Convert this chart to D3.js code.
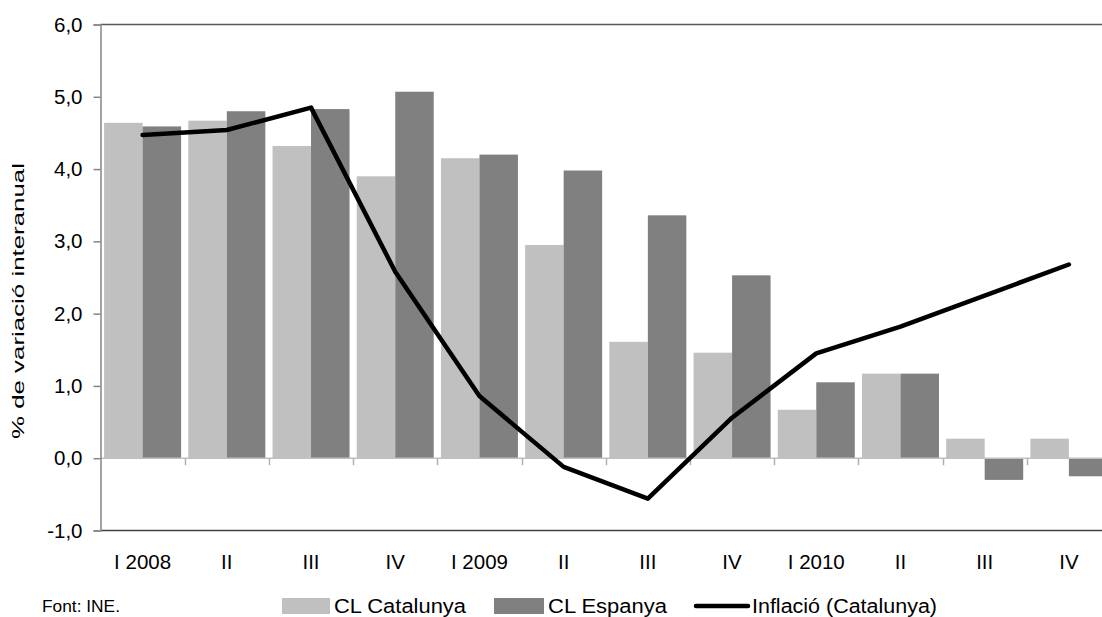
<!DOCTYPE html>
<html>
<head>
<meta charset="utf-8">
<script src="https://cdn.jsdelivr.net/npm/d3@7"></script>
<style>
  html, body { margin: 0; padding: 0; background: #fff; }
  svg { display: block; font-family: "Liberation Sans", Arial, sans-serif; }
</style>
</head>
<body>
<svg id="chart" width="1102" height="617"></svg>
<script>
// Quarterly labels
const quarters = ["I 2008", "II", "III", "IV", "I 2009", "II", "III", "IV", "I 2010", "II", "III", "IV"];
// Cost laboral, % variació interanual
const clCatalunya = [4.64, 4.67, 4.32, 3.90, 4.15, 2.95, 1.61, 1.46, 0.67, 1.17, 0.27, 0.27];
const clEspanya   = [4.59, 4.80, 4.83, 5.07, 4.20, 3.98, 3.36, 2.53, 1.05, 1.17, -0.30, -0.25];
// Inflació (Catalunya)
const inflacio    = [4.47, 4.54, 4.85, 2.58, 0.86, -0.12, -0.56, 0.56, 1.45, 1.82, 2.25, 2.68];
const yTicks = [-1, 0, 1, 2, 3, 4, 5, 6];
const seriesNames = ["CL Catalunya", "CL Espanya", "Inflació (Catalunya)"];

const svg = d3.select("#chart");
const mLeft = 100.5, mRight = 1111, mTop = 24.5, mBottom = 530.5;
const idx = d3.range(quarters.length);

const x = d3.scaleBand().domain(idx).range([mLeft, mRight])
  .paddingInner(0.0855).paddingOuter(0.0428);
const xs = d3.scaleBand().domain([0, 1]).range([0, x.bandwidth()]);
const y = d3.scaleLinear().domain([-1, 6]).range([mBottom, mTop]);
const fmt = d3.formatLocale({decimal: ",", thousands: ".", grouping: [3], currency: ["", "€"], minus: "-"}).format(".1f");

// top frame line
svg.append("line").attr("x1", mLeft).attr("x2", mRight).attr("y1", mTop).attr("y2", mTop)
  .attr("stroke", "#5a5a5a").attr("stroke-width", 1.5);

// bars
const colors = ["#c0c0c0", "#808080"];
[clCatalunya, clEspanya].forEach((vals, s) => {
  svg.append("g").selectAll("rect").data(vals).join("rect")
    .attr("x", (d, i) => x(i) + xs(s))
    .attr("width", xs.bandwidth())
    .attr("y", d => y(Math.max(0, d)))
    .attr("height", d => Math.abs(y(d) - y(0)))
    .attr("fill", colors[s]);
});

// zero line with category separators
const step = x.step();
const bounds = d3.range(1, quarters.length + 1).map(k => mLeft + k * step);
svg.append("line").attr("x1", mLeft).attr("x2", mRight).attr("y1", y(0)).attr("y2", y(0))
  .attr("stroke", "#c0c0c0").attr("stroke-width", 1.5);
svg.append("g").selectAll("line").data(bounds).join("line")
  .attr("x1", d => Math.round(d) + 0.5).attr("x2", d => Math.round(d) + 0.5)
  .attr("y1", y(0)).attr("y2", y(0) + 7)
  .attr("stroke", "#b0b0b0").attr("stroke-width", 1.5);

// bottom frame
svg.append("line").attr("x1", mLeft).attr("x2", mRight).attr("y1", mBottom).attr("y2", mBottom)
  .attr("stroke", "#404040").attr("stroke-width", 1.5);

// y axis
const yAxis = svg.append("g").attr("transform", `translate(${mLeft},0)`)
  .call(d3.axisLeft(y).tickValues(yTicks).tickFormat(fmt).tickSize(7).tickPadding(11));
yAxis.select(".domain").attr("stroke", "#868686").attr("stroke-width", 1.5);
yAxis.selectAll(".tick line").attr("stroke", "#868686").attr("stroke-width", 1.5);
yAxis.selectAll(".tick text").attr("font-size", 20.5).attr("fill", "#000")
  .attr("font-family", "Liberation Sans, Arial, sans-serif");

// x labels
svg.append("g").selectAll("text").data(quarters).join("text")
  .attr("x", (d, i) => x(i) + x.bandwidth() / 2)
  .attr("y", 569)
  .attr("text-anchor", "middle")
  .attr("font-size", 20.5)
  .text(d => d);

// inflation line
const line = d3.line().x((d, i) => x(i) + x.bandwidth() / 2).y(d => y(d));
svg.append("path").datum(inflacio).attr("d", line)
  .attr("fill", "none").attr("stroke", "#000").attr("stroke-width", 4.5)
  .attr("stroke-linejoin", "round").attr("stroke-linecap", "round");

// y title
svg.append("text")
  .attr("transform", `translate(24,301) rotate(-90)`)
  .attr("text-anchor", "middle")
  .attr("font-size", 17)
  .attr("textLength", 276).attr("lengthAdjust", "spacingAndGlyphs")
  .text("% de variació interanual");

// source
svg.append("text").attr("x", 42).attr("y", 612).attr("font-size", 17)
  .attr("textLength", 78).attr("lengthAdjust", "spacingAndGlyphs")
  .text("Font: INE.");

// legend
const lg = svg.append("g");
const legendItems = [
  {name: seriesNames[0], x: 282, w: 48, tl: 132, type: "rect", color: colors[0]},
  {name: seriesNames[1], x: 494, w: 50, tl: 119, type: "rect", color: colors[1]},
  {name: seriesNames[2], x: 694, w: 54, tl: 185, type: "line", color: "#000"}
];
legendItems.forEach(it => {
  if (it.type === "rect") {
    lg.append("rect").attr("x", it.x).attr("y", 598).attr("width", it.w).attr("height", 16).attr("fill", it.color);
  } else {
    lg.append("line").attr("x1", it.x + 2).attr("x2", it.x + it.w).attr("y1", 606).attr("y2", 606)
      .attr("stroke", it.color).attr("stroke-width", 4.5).attr("stroke-linecap", "round");
  }
  lg.append("text").attr("x", it.x + it.w + 4).attr("y", 613).attr("font-size", 20)
    .attr("textLength", it.tl).attr("lengthAdjust", "spacingAndGlyphs").text(it.name);
});
</script>
</body>
</html>
